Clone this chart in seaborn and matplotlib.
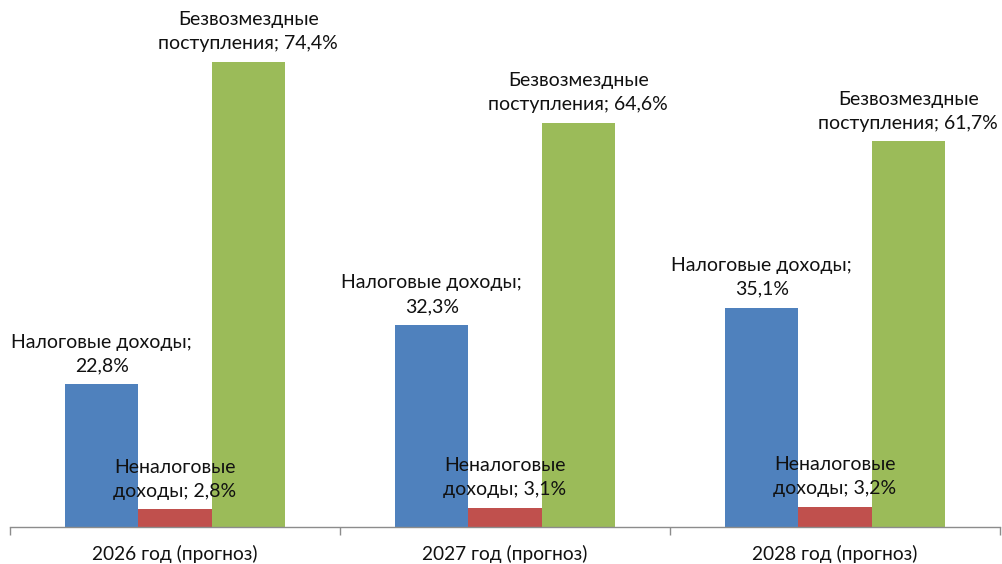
import matplotlib
matplotlib.use("Agg")
import matplotlib.pyplot as plt
import seaborn as sns
import pandas as pd

years = ["2026 год (прогноз)", "2027 год (прогноз)", "2028 год (прогноз)"]
series = ["Налоговые доходы", "Неналоговые доходы", "Безвозмездные поступления"]
tax = [22.8, 32.3, 35.1]
nontax = [2.8, 3.1, 3.2]
grants = [74.4, 64.6, 61.7]
label_texts = {
    "Налоговые доходы": "Налоговые доходы;\n{}%",
    "Неналоговые доходы": "Неналоговые\nдоходы; {}%",
    "Безвозмездные поступления": "Безвозмездные\nпоступления; {}%",
}
colors = ["#4F81BD", "#C0504D", "#9BBB59"]

rows = []
for s, vals in zip(series, [tax, nontax, grants]):
    for y, v in zip(years, vals):
        rows.append({"year": y, "series": s, "value": v})
df = pd.DataFrame(rows)

sns.set_theme(style="white")
plt.rcParams["font.family"] = ["Lato", "DejaVu Sans"]

fig = plt.figure(figsize=(10.02, 5.64), dpi=100)
ax = fig.add_axes([10/1002, 37/564, 990/1002, 527/564])
sns.barplot(data=df, x="year", y="value", hue="series", hue_order=series,
            order=years, palette=colors, width=0.667, ax=ax, legend=False,
            saturation=1, edgecolor="none")

ax.set_xlim(-0.5, 2.5)
ax.set_ylim(0, 84.3)
ax.set_xlabel("")
ax.set_ylabel("")
ax.set_yticks([])
for side in ["top", "right", "left"]:
    ax.spines[side].set_visible(False)
ax.spines["bottom"].set_color("#8C8C8C")
ax.spines["bottom"].set_linewidth(1)

ax.set_xticks([0, 1, 2])
ax.set_xticklabels(years, fontsize=13.8, color="#111111")
ax.tick_params(axis="x", which="major", length=0, pad=13)
ax.set_xticks([-0.5, 0.5, 1.5, 2.5], minor=True)
ax.tick_params(axis="x", which="minor", length=6, color="#8C8C8C", width=1, bottom=True)

for container, s in zip(ax.containers, series):
    for bar, v in zip(container, df[df.series == s]["value"]):
        txt = label_texts[s].format(str(v).replace(".", ","))
        ax.annotate(txt, (bar.get_x() + bar.get_width() / 2, bar.get_height()),
                    xytext=(0, 7), textcoords="offset points",
                    ha="center", va="bottom", fontsize=14, color="#111111",
                    linespacing=1.5)

fig.savefig("out.png", dpi=100)
